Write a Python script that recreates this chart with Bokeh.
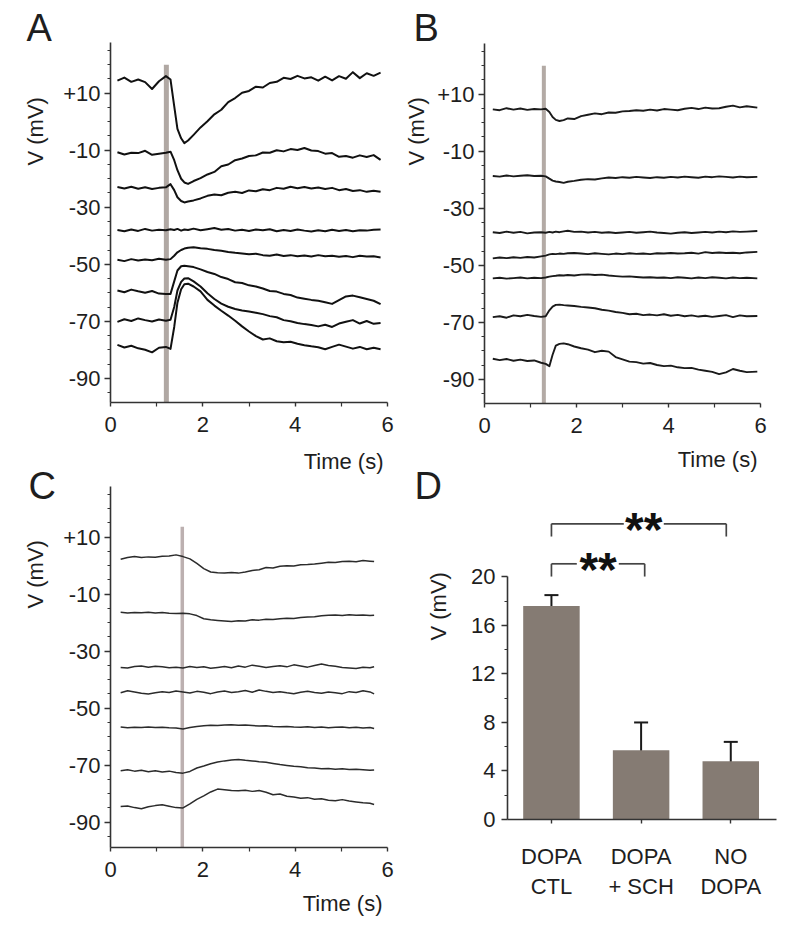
from bokeh.plotting import figure
from bokeh.models import FixedTicker, Label, ColumnDataSource, Whisker, TeeHead, Range1d, Title
from bokeh.layouts import row, column
from bokeh.embed import file_html
from bokeh.resources import INLINE

FONT = "Liberation Sans"

# ---------------- Panel A data (time in s, voltage in mV) ----------------
t_A = [0.15, 0.3, 0.45, 0.6, 0.75, 0.9, 1.05, 1.2, 1.3, 1.38, 1.45, 1.53, 1.6, 1.68, 1.8,
       1.95, 2.1, 2.25, 2.4, 2.55, 2.7, 2.85, 3.0, 3.15, 3.3, 3.45, 3.6, 3.75, 3.9, 4.05,
       4.2, 4.35, 4.5, 4.65, 4.8, 4.95, 5.1, 5.25, 5.4, 5.55, 5.7, 5.85]
A1 = [14.4, 15.5, 14.0, 14.8, 13.9, 11.5, 14.2, 16.0, 14.8, 5.5, -2.5, -5.8, -7.5, -6.6, -4.6,
      -2.0, 0.2, 2.6, 4.2, 6.9, 8.3, 10.2, 10.8, 12.3, 12.0, 13.6, 14.0, 15.4, 15.0, 16.1,
      15.2, 15.6, 14.4, 15.8, 14.5, 16.0, 15.1, 17.4, 15.3, 17.0, 16.1, 17.2]
A2 = [-10.7, -11.5, -10.9, -11.0, -10.2, -11.6, -11.2, -10.9, -10.5, -13.5, -17.0, -20.0, -21.3, -21.8, -20.8,
      -19.8, -18.5, -17.6, -15.6, -15.0, -13.5, -12.9, -12.0, -11.8, -10.8, -10.9, -10.0, -10.4, -9.6, -9.9,
      -9.2, -10.1, -10.3, -11.2, -11.0, -12.3, -12.0, -12.6, -11.8, -12.4, -11.7, -13.4]
A3 = [-22.9, -23.4, -22.8, -23.5, -23.0, -23.6, -23.2, -23.0, -21.9, -24.0, -26.5, -27.8, -28.3, -28.0, -27.6,
      -26.9, -26.0, -25.5, -25.8, -24.9, -24.6, -25.0, -24.1, -24.4, -23.7, -24.0, -23.2, -23.5, -22.8, -23.3,
      -22.9, -23.4, -23.1, -23.6, -23.2, -24.0, -23.6, -24.3, -24.0, -24.6, -24.2, -24.6]
A4 = [-38.0, -38.4, -37.8, -38.3, -37.6, -38.2, -37.9, -38.1, -37.7, -38.0, -37.6, -38.2, -37.8, -38.0, -37.5,
      -38.1, -37.7, -37.3, -37.9, -37.6, -38.2, -37.9, -38.3, -37.8, -38.1, -37.7, -38.4, -38.0, -38.3, -37.8,
      -38.2, -38.5, -38.1, -38.4, -37.9, -38.3, -38.0, -38.4, -38.1, -38.2, -37.9, -37.8]
A5 = [-48.4, -48.9, -48.2, -48.7, -48.3, -48.6, -48.1, -48.4, -48.2, -47.0, -45.8, -45.0, -44.5, -44.2, -44.0,
      -44.4, -44.6, -45.0, -45.3, -45.7, -46.0, -46.2, -46.5, -46.3, -46.8, -47.0, -46.6, -47.1, -46.8, -47.2,
      -46.9, -47.3, -46.8, -47.2, -47.0, -47.4, -47.1, -47.5, -47.0, -47.3, -47.2, -47.6]
A6 = [-59.2, -59.8, -58.9, -59.5, -60.0, -59.4, -60.3, -60.4, -60.4, -56.0, -52.2, -50.7, -50.5, -50.7, -51.0,
      -51.8, -52.7, -53.4, -54.5, -55.2, -56.3, -56.6, -57.4, -57.8, -58.5, -59.4, -59.6, -60.4, -60.8, -61.7,
      -62.1, -62.5, -62.8, -63.3, -63.9, -62.6, -61.3, -61.0, -61.6, -62.2, -62.8, -64.0]
A7 = [-70.2, -69.3, -69.9, -69.0, -69.6, -70.1, -69.4, -69.8, -69.5, -65.0, -59.2, -56.2, -55.0, -54.9, -56.0,
      -57.8, -60.2, -62.2, -63.8, -64.9, -65.7, -66.2, -66.6, -67.0, -67.5, -68.2, -68.6, -69.6, -70.0, -70.6,
      -71.0, -71.3, -71.8, -71.2, -72.0, -70.8, -70.2, -69.6, -70.8, -69.9, -70.9, -70.6]
A8 = [-78.3, -79.2, -78.6, -79.5, -80.0, -80.9, -79.3, -79.0, -79.7, -72.0, -63.5, -58.8, -57.0, -56.8, -57.8,
      -59.5, -62.5, -64.5, -66.3, -68.0, -69.8, -71.8, -73.6, -75.2, -76.4, -76.0, -77.0, -77.4, -77.2, -77.9,
      -78.4, -78.8, -79.1, -79.8, -79.0, -78.2, -78.9, -79.6, -79.0, -79.8, -79.3, -79.8]
stim_A = 1.21
stim_top_A = 20.0

# ---------------- Panel B data ----------------
t_B = [0.18, 0.33, 0.48, 0.63, 0.78, 0.93, 1.08, 1.23, 1.33, 1.41, 1.48, 1.55, 1.63, 1.72, 1.81,
       1.95, 2.1, 2.25, 2.4, 2.55, 2.7, 2.85, 3.0, 3.15, 3.3, 3.45, 3.6, 3.75, 3.9, 4.05,
       4.2, 4.35, 4.5, 4.65, 4.8, 4.95, 5.1, 5.25, 5.4, 5.55, 5.7, 5.93]
B1 = [4.7, 4.4, 5.1, 4.6, 5.0, 4.5, 4.8, 4.7, 4.9, 3.8, 2.0, 1.0, 0.6, 0.9, 1.5,
      1.3, 2.3, 2.8, 3.3, 3.0, 3.6, 3.5, 4.0, 4.1, 4.4, 4.2, 4.6, 4.3, 4.8, 4.6,
      4.4, 4.9, 5.2, 4.8, 5.3, 5.0, 5.1, 5.6, 6.0, 5.4, 5.8, 5.3]
B2 = [-18.7, -18.9, -18.5, -18.8, -18.6, -18.4, -18.7, -18.6, -18.8, -19.6, -20.3, -20.6, -20.8, -21.1, -20.7,
      -20.4, -20.0, -19.8, -19.9, -19.5, -19.2, -19.4, -19.1, -19.3, -19.0, -19.2, -19.4, -19.1, -19.3, -19.0,
      -19.2, -18.9, -19.1, -19.3, -18.9, -19.1, -18.8, -19.0, -19.2, -18.9, -19.1, -19.0]
B3 = [-38.4, -38.7, -38.2, -38.6, -38.3, -38.8, -38.5, -38.4, -38.6, -38.3, -38.5, -38.2, -38.4, -38.1, -37.9,
      -38.3, -38.2, -38.5, -38.3, -38.6, -38.4, -38.7, -38.5, -38.3, -38.6, -38.4, -38.2, -38.5, -38.7, -38.9,
      -38.6, -38.4, -38.7, -38.5, -38.3, -38.5, -38.2, -38.4, -38.1, -38.3, -38.2, -38.0]
B4 = [-47.6, -47.3, -47.5, -47.2, -47.4, -47.1, -47.3, -46.9, -46.6, -46.2, -46.0, -46.1, -45.9, -46.0, -45.8,
      -45.7, -45.9, -46.1, -45.8, -46.0, -46.2, -45.9, -46.1, -45.8, -46.0, -45.9, -46.1, -45.8, -45.9, -45.7,
      -45.9, -45.8, -45.6, -45.9, -45.4, -45.7, -45.5, -45.7, -45.6, -45.8, -45.5, -45.3]
B5 = [-54.6, -54.4, -54.7, -54.5, -54.3, -54.6, -54.4, -54.5, -54.3, -54.0, -53.8, -53.7, -53.5, -53.6, -53.4,
      -53.6, -53.3, -53.2, -53.4, -53.3, -53.6, -53.8, -54.0, -53.9, -54.1, -54.3, -54.2, -54.4, -54.3, -54.5,
      -54.2, -54.4, -54.6, -54.3, -54.5, -54.2, -54.4, -54.6, -54.3, -54.5, -54.4, -54.6]
B6 = [-68.2, -67.9, -68.4, -67.6, -67.9, -67.4, -67.8, -68.1, -67.9, -65.8, -64.5, -63.9, -63.8, -64.0, -64.1,
      -64.3, -64.6, -64.8, -65.1, -65.6, -65.9, -66.4, -66.7, -67.2, -67.0, -67.5, -67.3, -67.6, -67.2, -67.7,
      -67.4, -67.9, -67.6, -68.0, -67.7, -68.1, -67.8, -67.5, -68.2, -67.6, -67.9, -67.8]
B7 = [-82.8, -83.3, -82.9, -83.5, -83.1, -83.6, -83.4, -84.2, -84.6, -85.4, -81.4, -78.2, -77.6, -77.4, -77.7,
      -78.5, -79.1, -79.6, -80.5, -80.0, -80.3, -82.2, -83.0, -83.8, -84.0, -84.5, -84.3, -85.0, -85.4, -85.2,
      -85.8, -86.1, -86.0, -86.6, -87.0, -87.4, -88.2, -87.6, -86.4, -87.0, -87.5, -87.3]
stim_B = 1.29
stim_top_B = 20.0

# ---------------- Panel C data ----------------
t_C = [0.22, 0.37, 0.52, 0.67, 0.82, 0.97, 1.12, 1.27, 1.42, 1.57, 1.72, 1.87, 2.02, 2.17, 2.32,
       2.47, 2.62, 2.77, 2.92, 3.07, 3.22, 3.37, 3.52, 3.67, 3.82, 3.97, 4.12, 4.27, 4.42, 4.57,
       4.72, 4.87, 5.02, 5.17, 5.32, 5.47, 5.62, 5.71]
C1 = [2.3, 2.9, 3.2, 2.9, 3.1, 3.0, 3.3, 3.4, 3.8, 3.2, 2.4, 0.8, -1.0, -2.2, -2.5,
      -2.6, -2.4, -2.6, -2.2, -1.7, -1.4, -0.6, -0.8, -0.2, 0.0, -0.1, 0.3, 0.4, 0.6, 0.9,
      1.2, 1.1, 1.5, 1.6, 1.4, 1.8, 1.6, 1.5]
C2 = [-16.3, -16.6, -16.4, -16.5, -16.3, -16.6, -16.4, -16.7, -16.8, -16.7, -16.9, -17.5, -18.6, -19.0, -19.2,
      -19.4, -19.6, -19.3, -19.4, -19.0, -19.1, -18.8, -18.9, -18.6, -18.4, -18.5, -18.2, -18.0, -17.9, -17.6,
      -17.4, -17.3, -17.5, -17.2, -17.4, -17.3, -17.5, -17.4]
C3 = [-35.7, -35.9, -35.4, -35.2, -35.6, -35.3, -35.5, -35.8, -35.6, -35.9, -35.4, -35.7, -35.5, -36.0, -35.7,
      -35.4, -35.8, -35.2, -35.6, -34.9, -35.3, -35.7, -35.4, -35.1, -35.5, -34.8, -35.2, -35.6, -35.0, -34.5,
      -35.0, -35.3, -35.7, -35.9, -36.1, -35.6, -35.8, -35.5]
C4 = [-44.6, -43.9, -44.3, -44.8, -45.0, -44.6, -44.2, -44.5, -44.0, -44.3, -44.7, -44.1, -44.4, -44.9, -44.3,
      -44.0, -44.5, -44.2, -43.8, -44.4, -43.6, -44.1, -44.5, -44.2, -44.6, -44.9, -44.4, -44.1, -44.5, -44.8,
      -44.3, -44.6, -44.9, -44.2, -44.5, -43.9, -44.3, -45.0]
C5 = [-56.6, -56.9, -56.7, -56.8, -56.6, -56.8, -56.7, -56.9, -57.0, -57.3, -56.8, -56.4, -56.2, -56.0, -56.1,
      -55.9, -55.8, -56.0, -55.9, -56.1, -56.3, -56.2, -56.4, -56.5, -56.4, -56.6, -56.7, -56.5, -56.8, -56.6,
      -56.9, -56.7, -56.6, -56.9, -56.7, -57.0, -56.8, -57.1]
C6 = [-72.0, -71.6, -72.1, -71.8, -72.3, -72.0, -72.4, -72.1, -72.6, -72.8, -72.2, -71.0, -70.3, -69.5, -68.9,
      -68.5, -68.2, -68.0, -68.3, -68.5, -68.8, -69.0, -69.4, -69.8, -70.1, -70.4, -70.6, -70.9, -71.0, -71.3,
      -71.2, -71.4, -71.3, -71.5, -71.4, -71.6, -71.8, -71.7]
C7 = [-84.5, -84.3, -84.9, -85.3, -84.6, -84.2, -83.9, -84.4, -84.9, -85.0, -83.6, -82.0, -80.8, -79.4, -78.4,
      -78.6, -78.9, -79.0, -78.8, -79.2, -78.9, -79.5, -80.4, -80.1, -80.9, -81.2, -81.6, -81.4, -82.0, -81.8,
      -82.3, -82.5, -82.1, -82.6, -82.9, -83.2, -83.4, -83.8]
stim_C = 1.555
stim_top_C = 13.7

# ---------------- Panel D data ----------------
groups = ["DOPA\nCTL", "DOPA\n+ SCH", "NO\nDOPA"]
means = [17.6, 5.7, 4.8]
err_hi = [18.5, 8.0, 6.4]
err_lo = [16.6, 3.2, 3.2]

trace_ticks = [10, -10, -30, -50, -70, -90]
trace_tick_labels = ["+10", "-10", "-30", "-50", "-70", "-90"]
trace_minor = [25, 20, 15, 5, 0, -5, -15, -20, -25, -35, -40, -45, -55, -60, -65, -75, -80, -85, -95]
time_ticks = [0, 2, 4, 6]
time_minor = [1, 3, 5]
bar_ticks = [0, 4, 8, 12, 16, 20]
bar_minor = [2, 6, 10, 14, 18]

AXIS_COL = "#333333"
TEXT_COL = "#1e1e1e"


def base_fig(w, h, l, r, t, b, xr, yr):
    p = figure(width=w, height=h, min_border_left=l, min_border_right=r,
               min_border_top=t, min_border_bottom=b, x_range=xr, y_range=yr,
               output_backend="svg", toolbar_location=None)
    p.outline_line_color = None
    p.xgrid.visible = False
    p.ygrid.visible = False
    p.background_fill_color = "white"
    p.border_fill_color = "white"
    for ax in (p.xaxis[0], p.yaxis[0]):
        ax.axis_line_color = AXIS_COL
        ax.axis_line_width = 1.6
        ax.major_tick_line_color = AXIS_COL
        ax.minor_tick_line_color = AXIS_COL
        ax.major_tick_line_width = 1.4
        ax.minor_tick_line_width = 1.2
        ax.major_tick_in = 0
        ax.minor_tick_in = 0
        ax.major_label_text_font = FONT
        ax.major_label_text_font_size = "22px"
        ax.major_label_text_color = TEXT_COL
    return p


def style_title(t, text, align, valign, offset, standoff, size):
    t.text = text
    t.align = align
    t.vertical_align = valign
    t.offset = offset
    t.standoff = standoff
    t.text_font = FONT
    t.text_font_size = size
    t.text_font_style = "normal"
    t.text_color = TEXT_COL


def add_title(p, side, text, align, valign, offset, standoff, size="22px"):
    t = Title(text=text)
    style_title(t, text, align, valign, offset, standoff, size)
    p.add_layout(t, side)


def trace_fig(w, h, l, r, t, b, x_hi, y_lo, y_hi, times, traces, stim_t, stim_top,
              stim_w, stim_col, line_col, line_w):
    p = base_fig(w, h, l, r, t, b, Range1d(0, x_hi), Range1d(y_lo, y_hi))
    p.segment(x0=[stim_t], y0=[y_lo], x1=[stim_t], y1=[stim_top],
              line_width=stim_w, line_color=stim_col)
    for v in traces:
        p.line(times, v, line_color=line_col, line_width=line_w, line_join="round")
    xa, ya = p.xaxis[0], p.yaxis[0]
    xa.ticker = FixedTicker(ticks=time_ticks, minor_ticks=time_minor)
    xa.bounds = (0, 6)
    xa.major_tick_out = 4
    xa.minor_tick_out = 4
    xa.major_label_standoff = 10
    ya.ticker = FixedTicker(ticks=trace_ticks, minor_ticks=trace_minor)
    ya.major_label_overrides = dict(zip(trace_ticks, trace_tick_labels))
    ya.major_tick_out = 6
    ya.minor_tick_out = 3
    ya.major_label_standoff = 4
    return p


# A: canvas at page (0,0)
pA = trace_fig(395, 438, 110, 8, 42, 36, 6, -98.5, 27.8, t_A, [A1, A2, A3, A4, A5, A6, A7, A8],
               stim_A, stim_top_A, 5, "#b0a8a3", "#111111", 2.0)
style_title(pA.title, "A", "left", "bottom", -84, -13.6, "38px")
add_title(pA, "left", "V (mV)", "left", "bottom", 237, 26)

# B: canvas at page (395,0)
pB = trace_fig(403, 438, 88, 22, 43, 35, 6.347, -98.5, 27.8, t_B, [B1, B2, B3, B4, B5, B6, B7],
               stim_B, stim_top_B, 4, "#b3aaa5", "#1a1a1a", 1.9)
style_title(pB.title, "B", "left", "bottom", -71, -10.2, "38px")
add_title(pB, "left", "V (mV)", "left", "bottom", 238, 12)

# C: canvas at page (0,438); also carries the time label of panel A above it
pC = trace_fig(395, 488, 110, 8, 48, 79, 6, -98.9, 27.8, t_C, [C1, C2, C3, C4, C5, C6, C7],
               stim_C, stim_top_C, 3.5, "#bcb0b0", "#2b2b2b", 1.5)
add_title(pC, "above", "C", "left", "bottom", -82, -41.6, "38px")
style_title(pC.title, "Time (s)", "right", "top", 4, 18, "22px")
add_title(pC, "left", "V (mV)", "left", "bottom", 239, 26)
add_title(pC, "below", "Time (s)", "right", "bottom", 5, 18)

# D: canvas at page (395,438); also carries the time label of panel B above it
pD = base_fig(403, 488, 112, 22, 62, 107, Range1d(-0.49, 2.51), Range1d(0, 26.3))
xs = list(range(len(groups)))
src = ColumnDataSource(dict(x=xs, top=means, upper=err_hi, lower=err_lo))
pD.vbar(x="x", top="top", width=0.63, bottom=0, source=src, fill_color="#857b73", line_color=None)
pD.add_layout(Whisker(base="x", upper="upper", lower="lower", source=src,
                      line_color="#1a1a1a", line_width=2,
                      upper_head=TeeHead(size=14, line_color="#1a1a1a", line_width=2),
                      lower_head=TeeHead(size=14, line_color="#1a1a1a", line_width=2)))
xa, ya = pD.xaxis[0], pD.yaxis[0]
xa.ticker = FixedTicker(ticks=xs)
xa.major_label_overrides = {i: g for i, g in enumerate(groups)}
xa.major_tick_out = 4
xa.major_label_standoff = 20
ya.ticker = FixedTicker(ticks=bar_ticks, minor_ticks=bar_minor)
ya.bounds = (0, 20)
ya.major_tick_out = 6
ya.minor_tick_out = 3
ya.major_label_standoff = 6
add_title(pD, "above", "D", "left", "bottom", -93, -12.8, "38px")
style_title(pD.title, "Time (s)", "right", "top", 19, -8, "22px")
add_title(pD, "left", "V (mV)", "left", "bottom", 179, 35)

# significance brackets
BR_COL = "#444444"
upper_y, upper_drop = 24.38, 23.33
lower_y, lower_drop = 21.08, 20.03
pD.segment(x0=[0.0, 1.253, 0.0, 1.95], y0=[upper_y, upper_y, upper_y, upper_y],
           x1=[0.807, 1.95, 0.0, 1.95], y1=[upper_y, upper_y, upper_drop, upper_drop],
           line_color=BR_COL, line_width=1.7)
pD.segment(x0=[0.0, 0.751, 0.0, 1.04], y0=[lower_y, lower_y, lower_y, lower_y],
           x1=[0.283, 1.04, 0.0, 1.04], y1=[lower_y, lower_y, lower_drop, lower_drop],
           line_color=BR_COL, line_width=1.7)
for sx, sy in ((1.03, upper_y - 0.5), (0.52, lower_y - 0.5)):
    pD.add_layout(Label(x=sx, y=sy, text="**", text_font=FONT, text_font_size="48px",
                        text_font_style="bold", text_color="#111111",
                        text_align="center", text_baseline="alphabetic"))

# each plot wrapped on its own so that the frames are not forced into alignment
layout = row(column(column(pA), column(pC)), column(column(pB), column(pD)))

with open("out.html", "w") as f:
    f.write(file_html(layout, INLINE))
